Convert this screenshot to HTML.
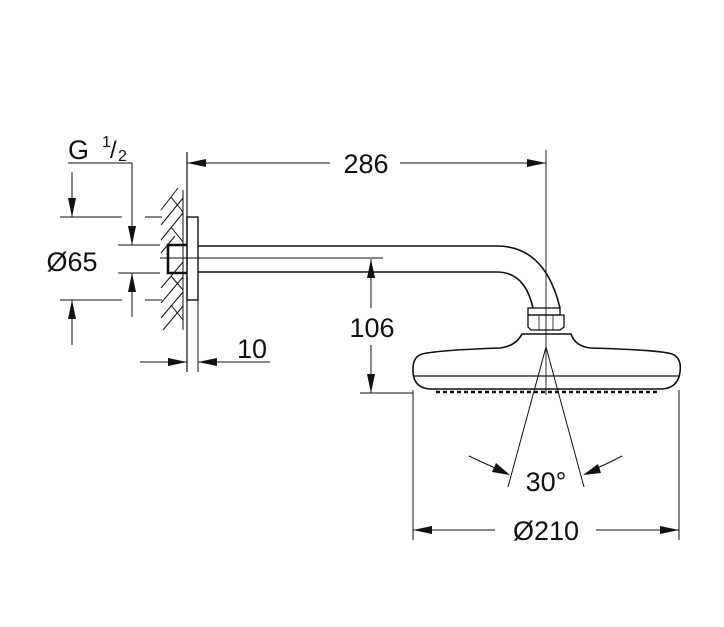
<!DOCTYPE html>
<html><head><style>html,body{margin:0;padding:0;background:#fff}svg{display:block}</style></head>
<body>
<svg width="724" height="627" viewBox="0 0 724 627" xmlns="http://www.w3.org/2000/svg" font-family="Liberation Sans, sans-serif" fill="none" stroke="#111" stroke-width="1.2">
<!-- hatch wall -->
<line x1="187" y1="152" x2="187" y2="372"/>
<line x1="183" y1="190" x2="183" y2="330" stroke-width="1"/>
<g stroke-width="1">
<path d="M161 210 L178 188 M171 197 L183 212"/><path d="M161 225 L183 198"/>
<path d="M161 240 L183 213 M171 227 L183 242"/><path d="M161 253 L175 236"/>
<path d="M161 288 L183 262 M171 276 L183 290"/><path d="M161 303 L183 277"/>
<path d="M161 318 L183 292 M171 305 L183 320"/><path d="M163 330 L183 306"/>
</g>
<!-- flange -->
<rect x="187" y="217" width="11" height="83" stroke-width="1.4"/>
<!-- stub -->
<path d="M187 245 H168 V273 H187" stroke-width="2.6"/>
<line x1="160" y1="258" x2="383" y2="258" stroke-width="0.9"/>
<!-- arm -->
<path d="M198 246 H497 Q545 246 560 308" stroke-width="1.6"/>
<path d="M198 272 H497 Q525 272 533 308" stroke-width="1.6"/>
<rect x="528" y="308" width="32" height="7" stroke-width="1.3"/>
<path d="M531 315 H564 V327 L560 330 H531 L528 327 V315 Z" stroke-width="1.3"/>
<line x1="539" y1="315" x2="539" y2="330" stroke-width="0.8"/><line x1="553" y1="315" x2="553" y2="330" stroke-width="0.8"/>
<!-- head -->
<path d="M522 334 H571 Q575 346 590 348 Q660 350 672 354 Q682 358 680 372 Q678 388 662 389 H430 Q414 388 413 372 Q412 357 422 354 Q440 350 500 348 Q516 346 522 334 Z" stroke-width="1.6"/>
<line x1="414" y1="376" x2="679" y2="376" stroke-width="1.3"/>
<path d="M436 392 H660" stroke-width="2.5" stroke-dasharray="4 3"/>
<line x1="546" y1="150" x2="546" y2="395" stroke-width="0.9"/>
<!-- 30 deg -->
<line x1="546" y1="347" x2="508" y2="487" stroke-width="1"/>
<line x1="546" y1="347" x2="584" y2="487" stroke-width="1"/>
<path d="M469 456 Q490 466 500 470" stroke-width="1"/><path d="M622 456 Q605 465 592 470" stroke-width="1"/>
<path d="M510 475 L492 472 L496 463 Z" fill="#111" stroke="none"/>
<path d="M583 475 L598 464 L601 473 Z" fill="#111" stroke="none"/>
<text x="546" y="491" font-size="27" fill="#111" stroke="none" text-anchor="middle">30°</text>
<!-- Ø210 -->
<line x1="413" y1="390" x2="413" y2="540" stroke-width="1"/>
<line x1="679" y1="390" x2="679" y2="540" stroke-width="1"/>
<line x1="413" y1="530" x2="495" y2="530" stroke-width="1"/><line x1="596" y1="530" x2="679" y2="530" stroke-width="1"/>
<path d="M413 530 L432 526 L432 534 Z M679 530 L660 526 L660 534 Z" fill="#111" stroke="none"/>
<text x="546" y="540" font-size="27" fill="#111" stroke="none" text-anchor="middle">Ø210</text>
<!-- 286 -->
<line x1="187" y1="163" x2="330" y2="163" stroke-width="1"/><line x1="400" y1="163" x2="546" y2="163" stroke-width="1"/>
<path d="M187 163 L206 159 L206 167 Z M546 163 L527 159 L527 167 Z" fill="#111" stroke="none"/>
<text x="366" y="173" font-size="27" fill="#111" stroke="none" text-anchor="middle">286</text>
<!-- 106 -->
<line x1="371" y1="259" x2="371" y2="308" stroke-width="1"/><line x1="371" y1="345" x2="371" y2="393" stroke-width="1"/>
<line x1="360" y1="393" x2="413" y2="393" stroke-width="1"/>
<path d="M371 259 L367 278 L375 278 Z M371 393 L367 374 L375 374 Z" fill="#111" stroke="none"/>
<text x="372" y="337" font-size="27" fill="#111" stroke="none" text-anchor="middle">106</text>
<!-- 10 -->
<line x1="140" y1="362" x2="187" y2="362" stroke-width="1"/><line x1="198" y1="362" x2="270" y2="362" stroke-width="1"/>
<line x1="198" y1="300" x2="198" y2="372" stroke-width="1"/>
<path d="M187 362 L168 358 L168 366 Z M198 362 L217 358 L217 366 Z" fill="#111" stroke="none"/>
<text x="252" y="358" font-size="27" fill="#111" stroke="none" text-anchor="middle">10</text>
<!-- Ø65 -->
<line x1="60" y1="217" x2="122" y2="217" stroke-width="1"/><line x1="145" y1="217" x2="162" y2="217" stroke-width="1"/>
<line x1="60" y1="300" x2="122" y2="300" stroke-width="1"/><line x1="145" y1="300" x2="162" y2="300" stroke-width="1"/>
<line x1="72" y1="172" x2="72" y2="217" stroke-width="1"/><line x1="72" y1="300" x2="72" y2="345" stroke-width="1"/>
<path d="M72 217 L68 198 L76 198 Z M72 300 L68 319 L76 319 Z" fill="#111" stroke="none"/>
<text x="72" y="271" font-size="27" fill="#111" stroke="none" text-anchor="middle">Ø65</text>
<!-- G1/2 -->
<line x1="118" y1="245" x2="160" y2="245" stroke-width="1"/><line x1="118" y1="273" x2="160" y2="273" stroke-width="1"/>
<path d="M68 163 H132 V245" stroke-width="1"/><line x1="132" y1="273" x2="132" y2="317" stroke-width="1"/>
<path d="M132 245 L128 226 L136 226 Z M132 273 L128 292 L136 292 Z" fill="#111" stroke="none"/>
<text x="68" y="159" font-size="27" fill="#111" stroke="none">G</text>
<text x="102" y="147" font-size="16" fill="#111" stroke="none">1</text>
<text x="110" y="158" font-size="24" fill="#111" stroke="none">/</text>
<text x="118" y="161" font-size="16" fill="#111" stroke="none">2</text>
</svg>
</body></html>
